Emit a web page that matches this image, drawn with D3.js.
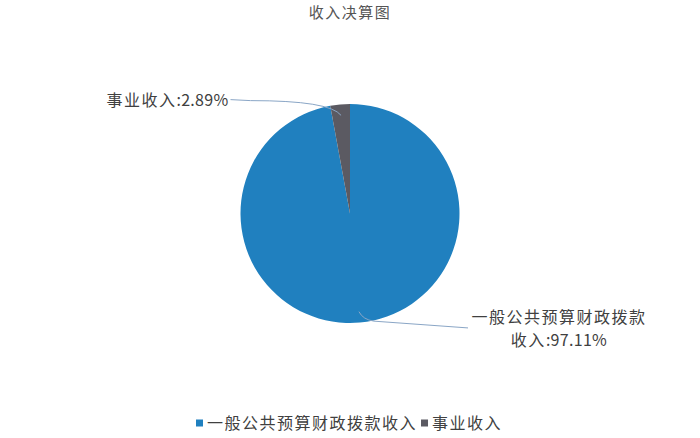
<!DOCTYPE html>
<html><head><meta charset="utf-8">
<script src="https://cdn.jsdelivr.net/npm/d3@7"></script>
<style>
html,body{margin:0;padding:0;background:#fff;}
text{font-family:"Noto Sans CJK SC","Noto Sans",sans-serif;}
</style></head>
<body><svg id="c" width="700" height="438"></svg>
<script>
const title = "收入决算图";
const categories = ["一般公共预算财政拨款收入", "事业收入"];
const values = [97.11, 2.89];
const labelLines = [["一般公共预算财政拨款", "收入:97.11%"], ["事业收入:2.89%"]];
const colors = ["#2080bf", "#5b5a62"];

const cx = 350, cy = 213.5, R = 109.5;
const FS = 16;
const svg = d3.select("#c");

// add text with CJK spaced and ASCII part unspaced
function addText(sel, str) {
  const parts = str.match(/[\u0080-\uffff]+|[\x00-\x7f]+/g) || [];
  parts.forEach(p => {
    sel.append("tspan").attr("letter-spacing", /[\u0080-\uffff]/.test(p) ? 1.5 : 0.3).text(p);
  });
  return sel;
}

addText(svg.append("text").attr("x", cx).attr("y", 18).attr("text-anchor", "middle")
  .attr("font-size", 15).attr("fill", "#555"), title);

const data = categories.map((c, i) => ({c, v: values[i], i}));
const pie = d3.pie().sort(null).value(d => d.v);
const arcs = pie(data);
const arc = d3.arc().innerRadius(0).outerRadius(R);
const g = svg.append("g").attr("transform", `translate(${cx},${cy})`);
g.selectAll("path.s").data(arcs).join("path").attr("class", "s")
  .attr("d", arc).attr("fill", d => colors[d.data.i]);

function pt(a, r) { return [Math.sin(a) * r, -Math.cos(a) * r]; }

arcs.forEach(d => {
  const mid = (d.startAngle + d.endAngle) / 2;
  const inner = pt(mid, R * 0.9);
  const lines = labelLines[d.data.i];
  if (d.data.i === 1) {
    const edge = pt(mid - 0.09, R * 1.03);
    const end = [-R - 10, -R * 1.04];
    g.append("path").attr("fill", "none").attr("stroke", "#8aa6c6").attr("stroke-width", 1)
      .attr("d", `M${inner[0]},${inner[1]} Q${edge[0]},${edge[1] - 2} ${end[0] + 20},${end[1] + 1} L${end[0]},${end[1]}`);
    addText(g.append("text").attr("x", end[0] - 2).attr("y", end[1] + 6).attr("text-anchor", "end")
      .attr("font-size", FS).attr("fill", "#404040"), lines[0]);
  } else {
    const c1 = [inner[0] + 4, inner[1] + 8];
    const p1 = [inner[0] + 15, inner[1] + 9.5];
    const end = [R + 8.5, R * 1.045];
    g.append("path").attr("fill", "none").attr("stroke", "#8aa6c6").attr("stroke-width", 1)
      .attr("d", `M${inner[0]},${inner[1]} Q${c1[0]},${c1[1]} ${p1[0]},${p1[1]} L${end[0]},${end[1]}`);
    const lx = R + 99.5;
    lines.forEach((t, k) => {
      addText(g.append("text").attr("x", lx).attr("y", end[1] - 5 + k * 23).attr("text-anchor", "middle")
        .attr("font-size", FS).attr("fill", "#404040"), t);
    });
  }
});

// legend
const lg = svg.append("g").attr("transform", `translate(196,423)`);
let x = 0;
categories.forEach((c, i) => {
  lg.append("rect").attr("x", x).attr("y", -3.5).attr("width", 7).attr("height", 7).attr("fill", colors[i]);
  const t = addText(lg.append("text").attr("x", x + 11).attr("y", 6).attr("font-size", FS)
    .attr("fill", "#404040"), c);
  x += 11 + t.node().getComputedTextLength() + 4;
});
</script></body></html>
